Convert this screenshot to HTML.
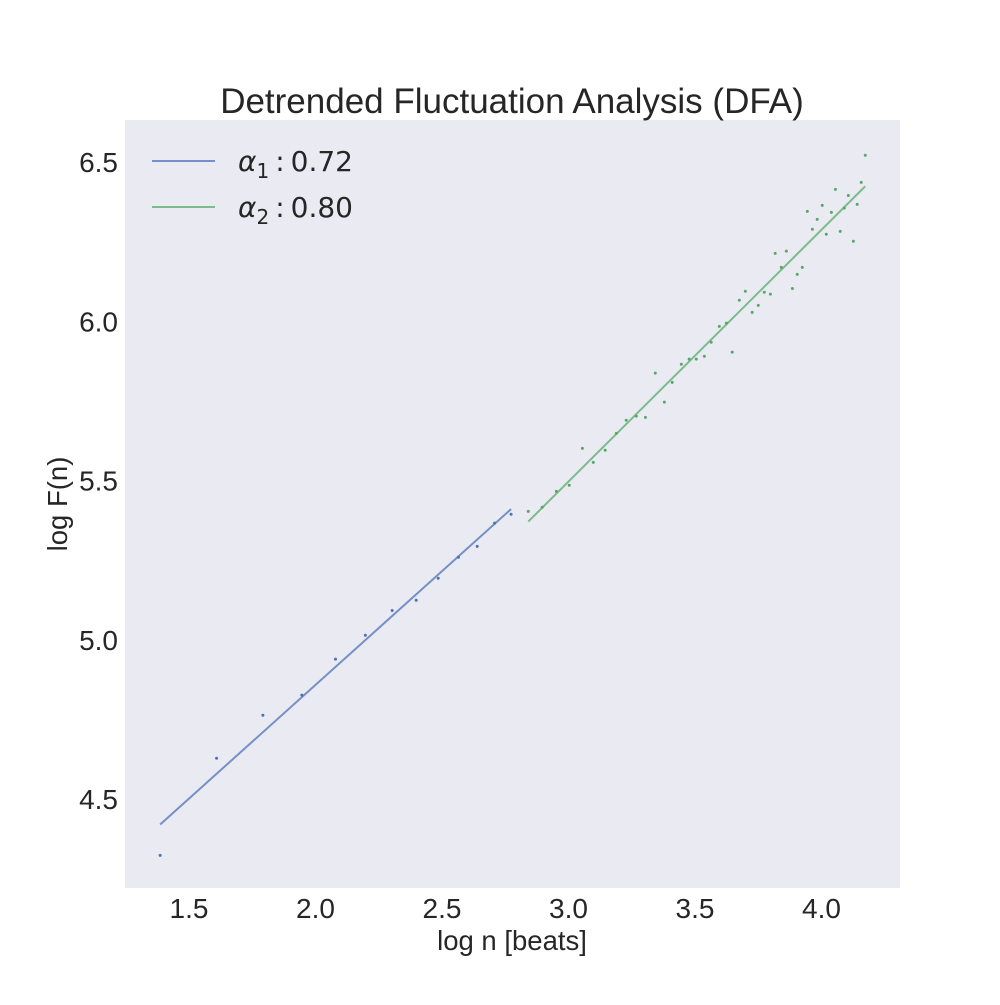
<!DOCTYPE html>
<html><head><meta charset="utf-8"><style>
body{margin:0;background:#fff}
svg text{font-family:"Liberation Sans",Arial,sans-serif;fill:#262626}
</style></head><body>
<svg id="chart" width="1000" height="1000" viewBox="0 0 1000 1000" xmlns="http://www.w3.org/2000/svg">
<rect x="125" y="120" width="775" height="768" fill="#eaeaf2"/>
<text x="512" y="113" font-size="35" text-anchor="middle">Detrended Fluctuation Analysis (DFA)</text>
<text x="512" y="950" font-size="27.5" text-anchor="middle">log n [beats]</text>
<text x="0" y="0" font-size="27.5" text-anchor="middle" transform="translate(67,504) rotate(-90)">log F(n)</text>
<g id="xticks"></g>
<g id="yticks"></g>
<g id="series"></g>
<g>
<line x1="152" y1="161" x2="215" y2="161" stroke="#7590c7" stroke-width="2"/>
<text x="238" y="171" font-size="28" style="font-family:'DejaVu Sans',sans-serif"><tspan font-style="italic">α</tspan><tspan font-size="20" dy="7">1</tspan><tspan dy="-7" dx="6">:</tspan><tspan dx="6">0.72</tspan></text>
<line x1="152" y1="207" x2="215" y2="207" stroke="#7dbb8a" stroke-width="2"/>
<text x="238" y="217" font-size="28" style="font-family:'DejaVu Sans',sans-serif"><tspan font-style="italic">α</tspan><tspan font-size="20" dy="7">2</tspan><tspan dy="-7" dx="6">:</tspan><tspan dx="6">0.80</tspan></text>
</g>
</svg>
<script>
const xTicks=[1.5,2.0,2.5,3.0,3.5,4.0];
const yTicks=[4.5,5.0,5.5,6.0,6.5];
const shortX=[1.386,1.609,1.792,1.946,2.079,2.197,2.303,2.398,2.485,2.565,2.639,2.708,2.773];
const shortY=[4.323,4.628,4.763,4.826,4.939,5.014,5.092,5.124,5.193,5.259,5.293,5.366,5.394];
const longX=[2.841,2.896,2.952,3.003,3.055,3.098,3.145,3.189,3.228,3.268,3.304,3.343,3.379,3.410,3.446,3.477,3.505,3.537,3.564,3.596,3.624,3.647,3.675,3.699,3.726,3.750,3.774,3.798,3.817,3.841,3.861,3.885,3.904,3.924,3.944,3.964,3.983,4.003,4.019,4.039,4.055,4.074,4.090,4.106,4.126,4.141,4.157,4.173];
const longY=[5.403,5.416,5.466,5.485,5.601,5.557,5.595,5.648,5.689,5.702,5.698,5.837,5.746,5.808,5.865,5.881,5.881,5.890,5.934,5.984,5.994,5.903,6.066,6.094,6.028,6.050,6.091,6.085,6.213,6.169,6.220,6.103,6.147,6.169,6.345,6.289,6.320,6.364,6.273,6.342,6.414,6.282,6.355,6.395,6.251,6.367,6.436,6.521];
const NS='http://www.w3.org/2000/svg';
const X=v=>189+(v-1.5)*253;
const Y=v=>799-(v-4.5)*318.5;
function mk(tag,attrs,parent){const e=document.createElementNS(NS,tag);for(const k in attrs)e.setAttribute(k,attrs[k]);parent.appendChild(e);return e;}
const xg=document.getElementById('xticks'),yg=document.getElementById('yticks'),sg=document.getElementById('series');
xTicks.forEach(t=>{const e=mk('text',{x:X(t),y:918,'font-size':28,'text-anchor':'middle'},xg);


e.textContent=t.toFixed(1);});
yTicks.forEach(t=>{const e=mk('text',{x:118,y:Y(t)+10,'font-size':28,'text-anchor':'end'},yg);


e.textContent=t.toFixed(1);});
function fit(xs,ys){const n=xs.length;let mx=0,my=0;xs.forEach((v,i)=>{mx+=v;my+=ys[i];});mx/=n;my/=n;let sxy=0,sxx=0;xs.forEach((v,i)=>{sxy+=(v-mx)*(ys[i]-my);sxx+=(v-mx)*(v-mx);});const b=sxy/sxx;return [b,my-b*mx];}
function drawSeries(xs,ys,ptColor,lineColor,name){
const [b,a]=fit(xs,ys);const x0=xs[0],x1=xs[xs.length-1];
const l=mk('line',{x1:X(x0),y1:Y(a+b*x0),x2:X(x1),y2:Y(a+b*x1),stroke:lineColor,'stroke-width':2},sg);


xs.forEach((v,i)=>{const c=mk('circle',{cx:X(v),cy:Y(ys[i]),r:1.5,fill:ptColor},sg);

});
}
drawSeries(shortX,shortY,'#4c72b0','#7590c7','alpha1');
drawSeries(longX,longY,'#55a868','#7dbb8a','alpha2');
</script>
</body></html>
